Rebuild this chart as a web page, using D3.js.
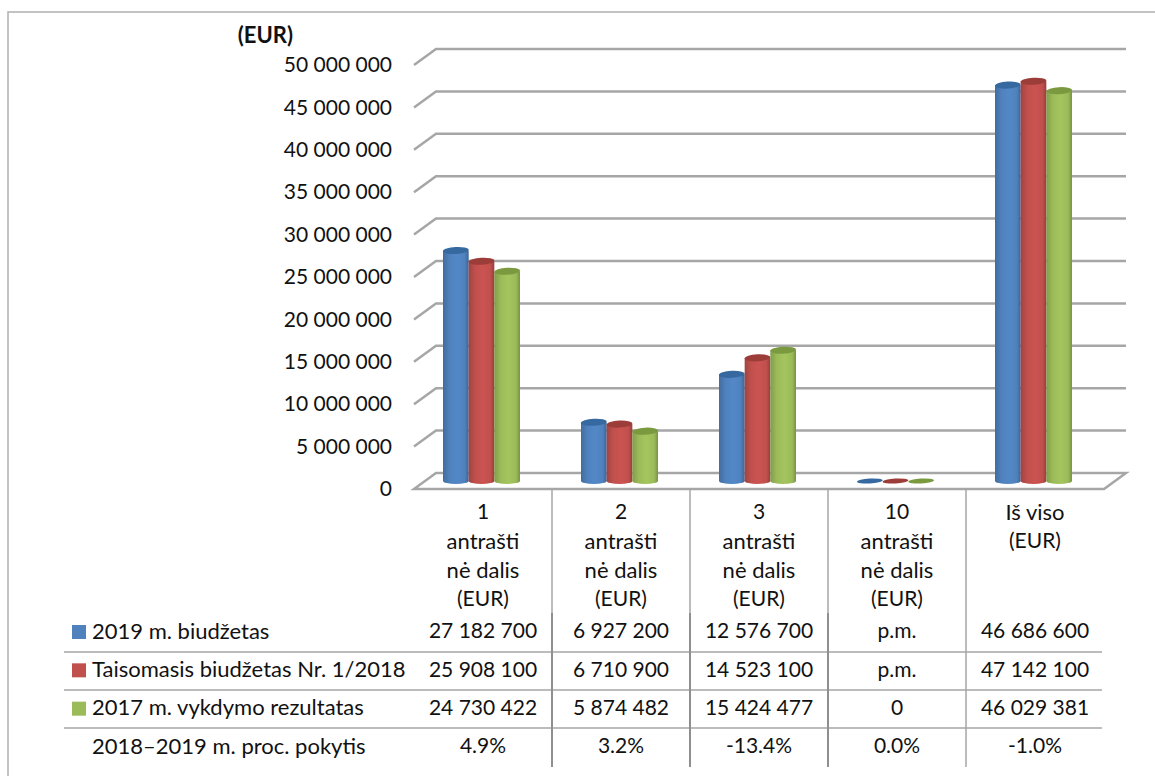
<!DOCTYPE html>
<html>
<head>
<meta charset="utf-8">
<script src="https://cdn.jsdelivr.net/npm/d3@7"></script>
<style>
body { margin: 0; background: #fff; }
text { font-family: Lato, sans-serif; font-size: 22px; fill: #111; }
text.num { font-size: 21px; }
</style>
</head>
<body>
<svg id="chart" width="1155" height="776"></svg>
<script>
const categories = ['1', '2', '3', '10', 'Iš viso']
const categoryLabels = [
	['1', 'antrašti', 'nė dalis', '(EUR)'],
	['2', 'antrašti', 'nė dalis', '(EUR)'],
	['3', 'antrašti', 'nė dalis', '(EUR)'],
	['10', 'antrašti', 'nė dalis', '(EUR)'],
	['Iš viso', '(EUR)']
]
const seriesNames = ['2019 m. biudžetas', 'Taisomasis biudžetas Nr. 1/2018', '2017 m. vykdymo rezultatas']
const seriesColours = ['#4f81bd', '#c0504d', '#9bbb59']
const seriesDark = ['#36699f', '#9c3d3a', '#7b9a40']
const budget2019 = [27182700, 6927200, 12576700, 0, 46686600]
const amending2018 = [25908100, 6710900, 14523100, 0, 47142100]
const result2017 = [24730422, 5874482, 15424477, 0, 46029381]
const seriesValues = [budget2019, amending2018, result2017]
const tableRows = [
	['27 182 700', '6 927 200', '12 576 700', 'p.m.', '46 686 600'],
	['25 908 100', '6 710 900', '14 523 100', 'p.m.', '47 142 100'],
	['24 730 422', '5 874 482', '15 424 477', '0', '46 029 381'],
	['4.9%', '3.2%', '-13.4%', '0.0%', '-1.0%']
]
const lastRowName = '2018–2019 m. proc. pokytis'
const yTicks = d3.range(0, 50000001, 5000000)

const GREY = '#a6a6a6'
const DEPTH_X = 22
const DEPTH_Y = 16
const BAR_DROP = 8

const svg = d3.select('#chart')

const x = d3.scaleBand().domain(categories).range([414, 1104])
const inner = d3.scaleBand().domain(d3.range(3)).range([-40, 37])
const y = d3.scaleLinear().domain([0, 50000000]).range([473, 49])
const rowY = d3.scaleLinear().domain([0, 3]).range([631, 746])

// frame, only top and left are visible in the picture
svg.append('path')
	.attr('d', 'M8,776V12H1155')
	.attr('fill', 'none')
	.attr('stroke', '#b0b0b0')
	.attr('stroke-width', 1.5)

// gradients for the cylinders
const defs = svg.append('defs')
seriesColours.forEach((c, i) => {
	const g = defs.append('linearGradient').attr('id', `cyl${i}`)
	const stops = [[0, d3.color(c).darker(0.5)], [0.25, c], [0.55, d3.color(c).brighter(0.15)], [0.85, c], [1, d3.color(c).darker(0.7)]]
	stops.forEach(s => g.append('stop').attr('offset', s[0]).attr('stop-color', s[1]))
})

// walls and floor
const grid = svg.append('g')
	.attr('fill', 'none')
	.attr('stroke', GREY)
	.attr('stroke-width', 2.5)

grid.selectAll('path.wall')
	.data(yTicks.slice(1))
	.enter()
	.append('path')
	.attr('class', 'wall')
	.attr('d', d => `M414,${y(d)+DEPTH_Y}L${414+DEPTH_X},${y(d)}H${1104+DEPTH_X}`)

grid.append('path')
	.attr('d', `M414,${y(0)+DEPTH_Y}L${414+DEPTH_X},${y(0)}H${1104+DEPTH_X}L1104,${y(0)+DEPTH_Y}Z`)

// y axis labels
const fmt = d3.formatLocale({ decimal: '.', thousands: ' ', grouping: [3], currency: ['', ''] }).format(',')
const yAxis = svg.append('g')
	.attr('transform', `translate(392,${DEPTH_Y})`)
	.call(d3.axisLeft(y).tickValues(yTicks).tickSize(0).tickPadding(0).tickFormat(fmt))
yAxis.select('.domain').remove()
yAxis.selectAll('text').attr('class', 'num').attr('fill', '#111')
yAxis.attr('font-family', null).attr('font-size', null)

svg.append('text')
	.attr('x', 293)
	.attr('y', 43)
	.attr('text-anchor', 'end')
	.style('font-weight', 'bold')
	.text('(EUR)')

// cylinders
const base = y(0) + BAR_DROP
const groups = svg.selectAll('g.cat')
	.data(categories)
	.enter()
	.append('g')
	.attr('class', 'cat')
	.attr('transform', d => `translate(${x(d)+x.bandwidth()/2},0)`)

groups.each(function (cat, ci) {
	const g = d3.select(this)
	seriesValues.forEach((vals, si) => {
		const v = vals[ci]
		const bw = inner.bandwidth()
		const left = inner(si)
		const top = y(v) + BAR_DROP
		const rot = `rotate(-3 ${left+bw/2} ${top})`
		if (v > 0) {
			g.append('ellipse')
				.attr('cx', left + bw/2).attr('cy', base)
				.attr('rx', bw/2).attr('ry', 3)
				.attr('fill', `url(#cyl${si})`)
			g.append('rect')
				.attr('x', left).attr('y', top)
				.attr('width', bw).attr('height', base - top)
				.attr('fill', `url(#cyl${si})`)
		}
		g.append('ellipse')
			.attr('cx', left + bw/2).attr('cy', top)
			.attr('rx', bw/2).attr('ry', v > 0 ? 3.5 : 2.5)
			.attr('transform', rot)
			.attr('fill', seriesDark[si])
	})
})

// category labels
const labelY = d3.scaleLinear().domain([0, 3]).range([512, 599])
svg.selectAll('g.catlabel')
	.data(categoryLabels)
	.enter()
	.append('g')
	.attr('class', 'catlabel')
	.each(function (lines, i) {
		d3.select(this).selectAll('text')
			.data(lines)
			.enter()
			.append('text')
			.attr('class', d => /^(\d+|\(EUR\))$/.test(d) ? 'num' : null)
			.attr('x', x(categories[i]) + x.bandwidth()/2)
			.attr('y', (d, j) => labelY(j))
			.attr('dy', '0.35em')
			.attr('text-anchor', 'middle')
			.text(d => d)
	})

// table lines
const rowLines = [652, 690, 728]
svg.selectAll('line.row')
	.data(rowLines)
	.enter()
	.append('line')
	.attr('class', 'row')
	.attr('x1', 64).attr('x2', 1102)
	.attr('y1', d => d).attr('y2', d => d)
	.attr('stroke', GREY)
	.attr('stroke-width', 1.5)

const colLines = categories.slice(1)
svg.selectAll('line.col')
	.data(colLines)
	.enter()
	.append('line')
	.attr('class', 'col')
	.attr('x1', d => x(d)).attr('x2', d => x(d))
	.attr('y1', 489).attr('y2', 767)
	.attr('stroke', GREY)
	.attr('stroke-width', 1.5)

svg.selectAll('line.colheavy')
	.data(colLines.slice(0, 3))
	.enter()
	.append('line')
	.attr('class', 'colheavy')
	.attr('x1', d => x(d)).attr('x2', d => x(d))
	.attr('y1', 613).attr('y2', 767)
	.attr('stroke', '#8f8f8f')
	.attr('stroke-width', 2)

// legend keys and row names
svg.selectAll('rect.key')
	.data(seriesColours)
	.enter()
	.append('rect')
	.attr('class', 'key')
	.attr('x', 72)
	.attr('y', (d, i) => rowY(i) - 6)
	.attr('width', 14)
	.attr('height', 14)
	.attr('fill', d => d)

svg.selectAll('text.rowname')
	.data(seriesNames.concat([lastRowName]))
	.enter()
	.append('text')
	.attr('class', 'rowname')
	.attr('x', 92)
	.attr('y', (d, i) => rowY(i))
	.attr('dy', '0.35em')
	.text(d => d)

// table values
tableRows.forEach((row, r) => {
	svg.append('g').selectAll('text')
		.data(row)
		.enter()
		.append('text')
		.attr('class', 'num')
		.attr('x', (d, i) => x(categories[i]) + x.bandwidth()/2)
		.attr('y', rowY(r))
		.attr('dy', '0.35em')
		.attr('text-anchor', 'middle')
		.text(d => d)
})
</script>
</body>
</html>
